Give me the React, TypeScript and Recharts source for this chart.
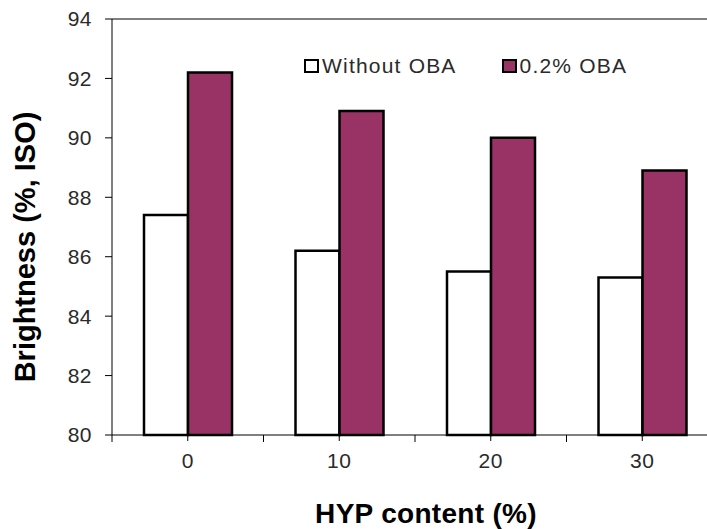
import React from "react";
import { BarChart, Bar, XAxis, YAxis, Label, ReferenceLine } from "recharts";

const categories = ["0", "10", "20", "30"];
const withoutOba = [87.4, 86.2, 85.5, 85.3];
const withOba = [92.2, 90.9, 90.0, 88.9];
const yTicks = [80, 82, 84, 86, 88, 90, 92, 94];

const series = [
  { key: "without", name: "Without OBA", fill: "#ffffff" },
  { key: "oba", name: "0.2% OBA", fill: "#993366" },
];

const data = categories.map((c, i) => ({
  hyp: c,
  without: withoutOba[i],
  oba: withOba[i],
}));

const FONT = "'Liberation Sans', Arial, sans-serif";

function HypTick(props: any) {
  const { x, y, payload } = props;
  // y is the label position; axis line sits tickSize + tickMargin above it
  const axisY = y - 18;
  const edge = typeof payload.offset === "number" ? x - payload.offset : null;
  return (
    <g>
      {edge !== null && <line x1={edge} y1={axisY} x2={edge} y2={axisY + 7} stroke="#000" />}
      <text x={x} y={y} dy="0.71em" textAnchor="middle" fill="#2a2a2a" fontSize={21} letterSpacing={0.5} fontFamily={FONT}>
        {payload.value}
      </text>
    </g>
  );
}

function LegendBox() {
  return (
    <div
      style={{
        position: "absolute",
        top: 55,
        left: 304,
        display: "flex",
        alignItems: "center",
        fontFamily: FONT,
        fontSize: 21,
        letterSpacing: 1.2,
        color: "#2a2a2a",
        lineHeight: "22px",
      }}
    >
      {series.map((s, i) => (
        <div key={s.key} style={{ display: "flex", alignItems: "center", marginRight: i === 0 ? 45 : 0 }}>
          <span
            style={{
              display: "inline-block",
              width: 15,
              height: 14,
              boxSizing: "border-box",
              border: "2.5px solid #000",
              background: s.fill,
              marginRight: 3,
            }}
          />
          <span>{s.name}</span>
        </div>
      ))}
    </div>
  );
}

export default function App() {
  return (
    <div style={{ position: "absolute", left: 0, top: 0, width: 707, height: 529, overflow: "hidden", background: "#fff" }}>
      <BarChart
        width={718}
        height={529}
        data={data}
        margin={{ top: 19, right: 0, bottom: 0, left: 0 }}
        barGap={0}
        barSize={44}
      >
        <ReferenceLine y={94} stroke="#000" strokeWidth={1} />
        <XAxis
          dataKey="hyp"
          height={94}
          stroke="#000"
          tickSize={6}
          tickMargin={12}
          tick={<HypTick />}
          tickLine={{ stroke: "#000" }}
        >
          <Label
            content={({ viewBox }: any) => (
              <text
                x={viewBox.x + viewBox.width / 2 + 11}
                y={523}
                textAnchor="middle"
                fontFamily={FONT}
                fontWeight="bold"
                fontSize={28}
                letterSpacing={0.3}
                fill="#000"
              >
                HYP content (%)
              </text>
            )}
          />
        </XAxis>
        <YAxis
          width={112}
          domain={[80, 94]}
          ticks={yTicks}
          interval={0}
          stroke="#000"
          tickSize={7}
          tickMargin={13}
          tick={{ fill: "#2a2a2a", fontSize: 21, fontFamily: FONT, letterSpacing: 0.5 }}
        >
          <Label
            content={({ viewBox }: any) => {
              const cx = 25;
              const cy = viewBox.y + viewBox.height / 2 + 20;
              return (
                <text
                  x={cx}
                  y={cy}
                  transform={`rotate(-90, ${cx}, ${cy})`}
                  textAnchor="middle"
                  dominantBaseline="central"
                  fontFamily={FONT}
                  fontWeight="bold"
                  fontSize={29}
                  fill="#000"
                >
                  Brightness (%, ISO)
                </text>
              );
            }}
          />
        </YAxis>
        {series.map((s) => (
          <Bar
            key={s.key}
            dataKey={s.key}
            name={s.name}
            fill={s.fill}
            stroke="#000"
            strokeWidth={2.5}
            isAnimationActive={false}
          />
        ))}
      </BarChart>
      <LegendBox />
    </div>
  );
}
